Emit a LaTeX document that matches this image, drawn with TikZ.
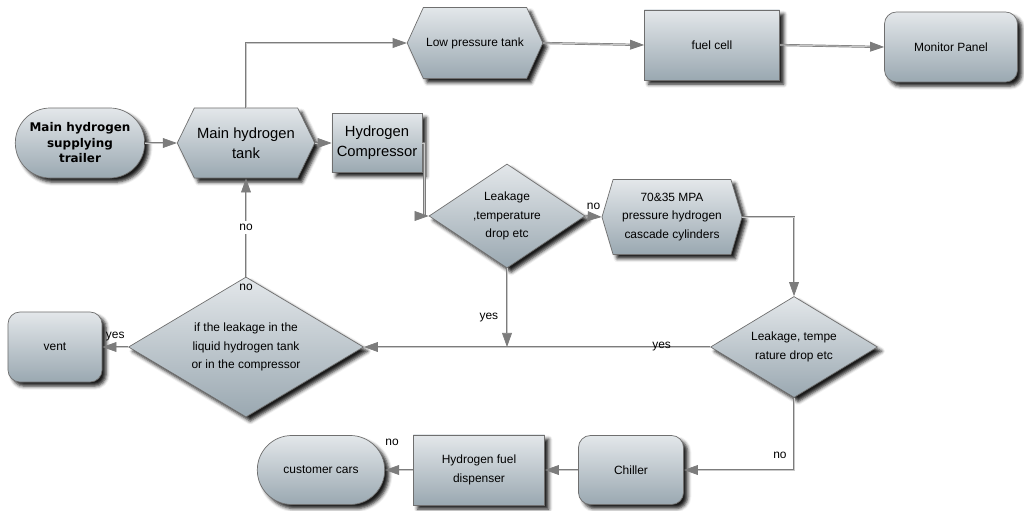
\documentclass[tikz,border=0pt]{standalone}
\usepackage{fontspec}
\setmainfont{Liberation Sans}
\newfontfamily\trailerfont{DejaVu Sans}
\usetikzlibrary{shapes.geometric, shapes.symbols, shapes.misc, shadows.blur, arrows.meta}
\definecolor{boxtop}{HTML}{E3E7EA}
\definecolor{boxbot}{HTML}{9AA8B1}
\definecolor{boxline}{HTML}{6F6F6F}
\definecolor{flowline}{HTML}{7C7C7C}
\definecolor{flowlight}{HTML}{C9C9C9}

\begin{document}
\begin{tikzpicture}[x=0.025cm, y=-0.025cm, font=\fontsize{8.5}{13}\selectfont,
	box/.style={draw=boxline, line width=0.5pt, top color=boxtop, bottom color=boxbot, align=center, inner sep=2pt,
		blur shadow={shadow xshift=3pt, shadow yshift=-3pt, shadow blur radius=2.5pt, shadow opacity=90}},
	square/.style={box, rectangle},
	soft/.style={box, rectangle, rounded corners=0.3cm},
	pill/.style={box, rounded rectangle},
	hexbox/.style={box, signal, signal from=nowhere, signal to=west and east, signal pointer angle=#1},
	choice/.style={box, diamond, inner sep=0pt},
	flow/.style={draw=flowline, line width=0.5pt, double=flowlight, double distance=0.6pt, -{Triangle[length=10pt, width=7pt]}},
	tag/.style={inner sep=2pt}]
	\useasboundingbox (0,0) rectangle (1024,511);

	\node[pill, minimum width=3.375cm, minimum height=1.75cm, font=\trailerfont\bfseries\fontsize{8.5}{11}\selectfont] (trailer) at (80,143) {Main hydrogen\\supplying\\trailer};
	\node[hexbox=128, minimum width=3.325cm, minimum height=1.75cm, font=\fontsize{10.5}{14}\selectfont] (mt) at (246,143) {Main hydrogen\\tank};
	\node[square, minimum width=2.25cm, minimum height=1.475cm, font=\fontsize{10.5}{14}\selectfont] (comp) at (377,143) {Hydrogen\\Compressor};
	\node[hexbox=131, minimum width=3.375cm, minimum height=1.775cm] (lpt) at (475,43) {Low pressure tank};
	\node[square, minimum width=3.375cm, minimum height=1.75cm] (fuel) at (712,45) {fuel cell};
	\node[soft, minimum width=3.325cm, minimum height=1.75cm] (mon) at (951,47) {Monitor Panel};
	\node[choice, aspect=1.5, minimum width=3.9cm, minimum height=2.6cm] (d1) at (507,216) {Leakage\\,temperature\\drop etc};
	\node[hexbox=147, minimum width=3.5cm, minimum height=1.875cm] (hex70) at (672,217) {70\&35 MPA\\pressure hydrogen\\cascade cylinders};
	\node[choice, aspect=1.65, minimum width=4.175cm, minimum height=2.525cm] (d2) at (794,347) {Leakage, tempe\\rature drop etc};
	\node[choice, aspect=1.68, minimum width=5.875cm, minimum height=3.5cm] (d3) at (246,347) {if the leakage in the\\liquid hydrogen tank\\or in the compressor};
	\node[soft, minimum width=2.35cm, minimum height=1.75cm] (vent) at (55,347) {vent};
	\node[pill, minimum width=3.325cm, minimum height=1.725cm] (cars) at (321,470) {customer cars};
	\node[square, minimum width=3.275cm, minimum height=1.75cm] (disp) at (479,470) {Hydrogen fuel\\dispenser};
	\node[soft, minimum width=2.625cm, minimum height=1.725cm] (chill) at (631,470) {Chiller};

	\draw[flow] (trailer.east) -- (mt.west);
	\draw[flow] (mt.east) -- (comp.west);
	\draw[flow] (mt.north) |- (lpt.west);
	\draw[flow] (lpt.east) -- (fuel.west);
	\draw[flow] (fuel.east) -- (mon.west);
	\draw[flow] (comp.east) -| ([xshift=-3pt]d1.west) -- (d1.west);
	\draw[flow] (d1.east) -- node[tag, above=3pt] {no} (hex70.west);
	\draw[flow] (hex70.east) -| (d2.north);
	\coordinate (yesjoin) at (d1.south |- d2.west);
	\draw[flow] (d1.south) -- node[tag, pos=0.63, left=4pt] {yes} (yesjoin);
	\draw[flow] (d2.west) -- node[tag, pos=0.14] {yes} (d3.east);
	\draw[flow] (d3.north) -- node[tag, fill=white] {no} node[tag, pos=0, below=3pt] {no} (mt.south);
	\draw[flow] (d3.west) -- node[tag, above=2pt] {yes} (vent.east);
	\draw[flow] (d2.south) |- node[tag, pos=0.4, left=3pt] {no} (chill.east);
	\draw[flow] (chill.west) -- (disp.east);
	\draw[flow] (disp.west) -- node[tag, pos=0.75, above=15pt] {no} (cars.east);
\end{tikzpicture}
\end{document}
